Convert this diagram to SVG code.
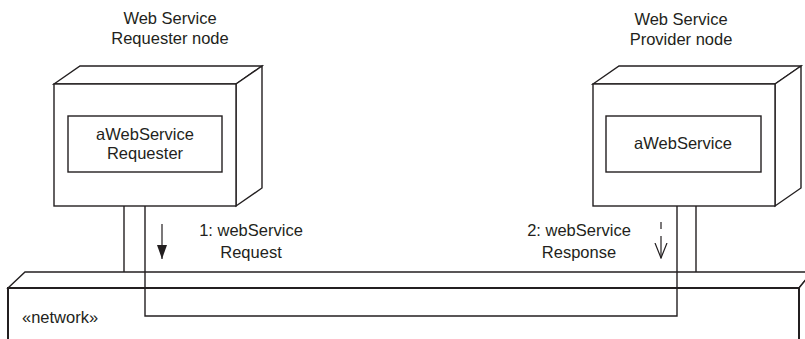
<svg xmlns="http://www.w3.org/2000/svg" width="805" height="339" viewBox="0 0 805 339">
<style>
.ln{fill:none;stroke:#231f20;stroke-width:1.4;stroke-linejoin:miter}
.face{fill:#fff;stroke:#231f20;stroke-width:1.4}
.t{font-family:"Liberation Sans",Arial,sans-serif;font-size:16.5px;fill:#231f20;text-anchor:middle}
.tl{font-family:"Liberation Sans",Arial,sans-serif;font-size:16.5px;fill:#231f20}
</style>
<defs>
<marker id="filled" markerWidth="14" markerHeight="10" refX="14" refY="5" orient="auto" markerUnits="userSpaceOnUse" viewBox="0 0 14 10">
<path d="M0,0 L14,5 L0,10 Z" fill="#231f20"/>
</marker>
<marker id="open" markerWidth="16" markerHeight="14" refX="15" refY="7" orient="auto" markerUnits="userSpaceOnUse" viewBox="0 0 16 14">
<path d="M0,1 L15,7 L0,13" fill="none" stroke="#231f20" stroke-width="1.2"/>
</marker>
</defs>
<rect width="805" height="339" fill="#fff"/>
<g id="network">
<path class="face" d="M8,288 L25,272 L812,272 L799,288 Z"/>
<path class="face" d="M799,288 L812,272 L812,345 L799,345 Z"/>
<path class="ln" d="M8,345 L8,288 L799,288 L799,345" style="stroke-width:2"/>
<text class="tl" x="22" y="323">«network»</text>
</g>
<g id="requester-node">
<path class="face" d="M54,84 L80,66 L262,66 L236,84 Z"/>
<path class="face" d="M236,84 L262,66 L262,188 L236,206 Z"/>
<rect class="face" x="54" y="84" width="182" height="122"/>
<rect class="face" x="68" y="116" width="154" height="56"/>
<text class="t" x="145" y="140">aWebService</text>
<text class="t" x="145" y="159">Requester</text>
<text class="t" x="170" y="24">Web Service</text>
<text class="t" x="170" y="44">Requester node</text>
</g>
<g id="provider-node">
<path class="face" d="M593,84 L619,66 L801,66 L775,84 Z"/>
<path class="face" d="M775,84 L801,66 L801,188 L775,206 Z"/>
<rect class="face" x="593" y="84" width="182" height="122"/>
<rect class="face" x="606" y="116" width="155" height="56"/>
<text class="t" x="683" y="149">aWebService</text>
<text class="t" x="681" y="25">Web Service</text>
<text class="t" x="681" y="45">Provider node</text>
</g>
<g id="connectors">
<path class="ln" d="M124,206 L124,272"/>
<path class="ln" d="M696,206 L696,272"/>
<path class="ln" d="M145,206 L145,316 L677,316 L677,206"/>
<path class="ln" d="M162,224 L162,259" style="stroke-width:1.2" marker-end="url(#filled)"/>
<path class="ln" d="M661,222 L661,229" style="stroke-width:1.2"/>
<path class="ln" d="M661,236 L661,258" style="stroke-width:1.2" marker-end="url(#open)"/>
<text class="t" x="251" y="236">1: webService</text>
<text class="t" x="251" y="258">Request</text>
<text class="t" x="579" y="236">2: webService</text>
<text class="t" x="579" y="258">Response</text>
</g>
</svg>
